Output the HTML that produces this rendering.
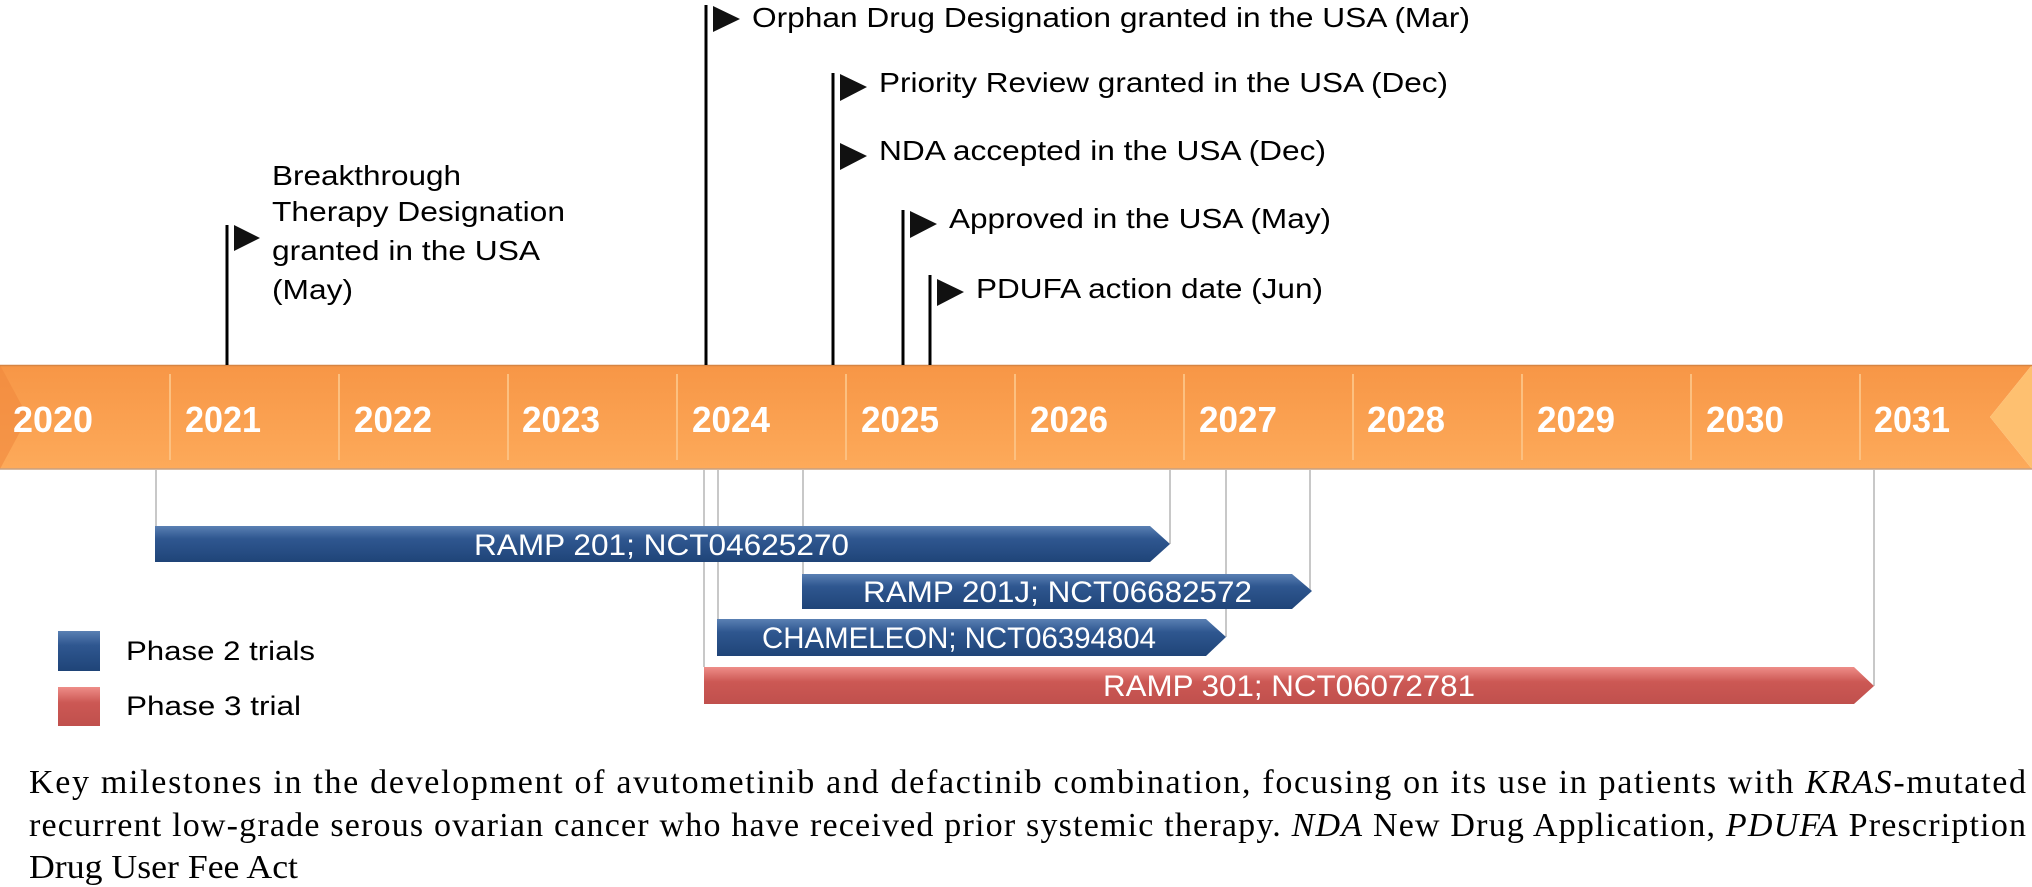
<!DOCTYPE html>
<html><head><meta charset="utf-8"><style>
html,body{margin:0;padding:0;background:#fff;}
svg{display:block;}
</style></head><body>
<svg width="2032" height="887" viewBox="0 0 2032 887" xmlns="http://www.w3.org/2000/svg">
<defs>
<linearGradient id="og" x1="0" y1="0" x2="0" y2="1">
<stop offset="0" stop-color="#f79646"/><stop offset="1" stop-color="#fdaa5a"/></linearGradient>
<linearGradient id="bg" x1="0" y1="0" x2="0" y2="1">
<stop offset="0" stop-color="#5a80b3"/><stop offset="0.35" stop-color="#2f5790"/><stop offset="1" stop-color="#1f4478"/></linearGradient>
<linearGradient id="rg" x1="0" y1="0" x2="0" y2="1">
<stop offset="0" stop-color="#ee8d88"/><stop offset="0.4" stop-color="#cc5854"/><stop offset="1" stop-color="#c0504d"/></linearGradient>
</defs>
<polygon points="0,365 2032,365 1990,417 2032,469 0,469" fill="url(#og)"/>
<polygon points="1990,417 2032,365 2032,469" fill="#fec070"/>
<polygon points="0,365 28,417 0,469" fill="#f0893e" opacity="0.6"/>
<line x1="0" y1="365.5" x2="2032" y2="365.5" stroke="#d68442" stroke-width="1.5"/>
<line x1="0" y1="469" x2="2032" y2="469" stroke="#c8a080" stroke-width="1.5"/>
<g stroke="#fcc080" stroke-width="2">
<line x1="170" y1="374" x2="170" y2="460"/><line x1="339" y1="374" x2="339" y2="460"/>
<line x1="508" y1="374" x2="508" y2="460"/><line x1="677" y1="374" x2="677" y2="460"/>
<line x1="846" y1="374" x2="846" y2="460"/><line x1="1015" y1="374" x2="1015" y2="460"/>
<line x1="1184" y1="374" x2="1184" y2="460"/><line x1="1353" y1="374" x2="1353" y2="460"/>
<line x1="1522" y1="374" x2="1522" y2="460"/><line x1="1691" y1="374" x2="1691" y2="460"/>
<line x1="1860" y1="374" x2="1860" y2="460"/>
</g>
<g font-family="Liberation Sans, sans-serif" font-weight="bold" font-size="36" fill="#fff">
<text x="13" y="432" textLength="80" lengthAdjust="spacingAndGlyphs">2020</text>
<text x="185" y="432" textLength="76" lengthAdjust="spacingAndGlyphs">2021</text>
<text x="354" y="432" textLength="78" lengthAdjust="spacingAndGlyphs">2022</text>
<text x="522" y="432" textLength="78" lengthAdjust="spacingAndGlyphs">2023</text>
<text x="692" y="432" textLength="78" lengthAdjust="spacingAndGlyphs">2024</text>
<text x="861" y="432" textLength="78" lengthAdjust="spacingAndGlyphs">2025</text>
<text x="1030" y="432" textLength="78" lengthAdjust="spacingAndGlyphs">2026</text>
<text x="1199" y="432" textLength="78" lengthAdjust="spacingAndGlyphs">2027</text>
<text x="1367" y="432" textLength="78" lengthAdjust="spacingAndGlyphs">2028</text>
<text x="1537" y="432" textLength="78" lengthAdjust="spacingAndGlyphs">2029</text>
<text x="1706" y="432" textLength="78" lengthAdjust="spacingAndGlyphs">2030</text>
<text x="1874" y="432" textLength="76" lengthAdjust="spacingAndGlyphs">2031</text>
</g>
<g stroke="#000" stroke-width="3">
<line x1="227" y1="225" x2="227" y2="365"/>
<line x1="706" y1="5" x2="706" y2="365"/>
<line x1="833" y1="73" x2="833" y2="365"/>
<line x1="903" y1="210" x2="903" y2="365"/>
<line x1="930" y1="275" x2="930" y2="365"/>
</g>
<g fill="#111">
<polygon points="234,225 260,238 234,251"/>
<polygon points="713,6 740,19 713,32"/>
<polygon points="840,74 867,87 840,101"/>
<polygon points="840,143 867,156 840,170"/>
<polygon points="910,211 937,224 910,238"/>
<polygon points="937,279 964,292 937,306"/>
</g>
<g font-family="Liberation Sans, sans-serif" font-size="28" fill="#000">
<text x="272" y="185" textLength="189" lengthAdjust="spacingAndGlyphs">Breakthrough</text>
<text x="272" y="221" textLength="293" lengthAdjust="spacingAndGlyphs">Therapy Designation</text>
<text x="272" y="260" textLength="268" lengthAdjust="spacingAndGlyphs">granted in the USA</text>
<text x="272" y="299" textLength="81" lengthAdjust="spacingAndGlyphs">(May)</text>
<text x="752" y="27" textLength="718" lengthAdjust="spacingAndGlyphs">Orphan Drug Designation granted in the USA (Mar)</text>
<text x="879" y="92" textLength="569" lengthAdjust="spacingAndGlyphs">Priority Review granted in the USA (Dec)</text>
<text x="879" y="160" textLength="447" lengthAdjust="spacingAndGlyphs">NDA accepted in the USA (Dec)</text>
<text x="949" y="228" textLength="382" lengthAdjust="spacingAndGlyphs">Approved in the USA (May)</text>
<text x="976" y="298" textLength="347" lengthAdjust="spacingAndGlyphs">PDUFA action date (Jun)</text>
</g>
<g stroke="#c8c8c8" stroke-width="2">
<line x1="156" y1="470" x2="156" y2="526"/><line x1="1170" y1="470" x2="1170" y2="544"/>
<line x1="803" y1="470" x2="803" y2="574"/><line x1="1310" y1="470" x2="1310" y2="592"/>
<line x1="718" y1="470" x2="718" y2="619"/><line x1="1226" y1="470" x2="1226" y2="637"/>
<line x1="704" y1="470" x2="704" y2="667"/><line x1="1874" y1="470" x2="1874" y2="686"/>
</g>
<polygon points="155,526 1150,526 1170,544 1150,562 155,562" fill="url(#bg)"/>
<polygon points="802,574 1292,574 1312,591 1292,609 802,609" fill="url(#bg)"/>
<polygon points="717,619 1206,619 1226,637 1206,656 717,656" fill="url(#bg)"/>
<polygon points="704,667 1854,667 1874,686 1854,704 704,704" fill="url(#rg)"/>
<g font-family="Liberation Sans, sans-serif" font-size="30" fill="#fff">
<text x="474" y="555" textLength="375" lengthAdjust="spacingAndGlyphs">RAMP 201; NCT04625270</text>
<text x="863" y="602" textLength="389" lengthAdjust="spacingAndGlyphs">RAMP 201J; NCT06682572</text>
<text x="762" y="648" textLength="394" lengthAdjust="spacingAndGlyphs">CHAMELEON; NCT06394804</text>
<text x="1103" y="696" textLength="372" lengthAdjust="spacingAndGlyphs">RAMP 301; NCT06072781</text>
</g>
<rect x="58" y="631" width="42" height="40" fill="url(#bg)"/>
<rect x="58" y="687" width="42" height="39" fill="url(#rg)"/>
<g font-family="Liberation Sans, sans-serif" font-size="27" fill="#000">
<text x="126" y="660" textLength="189" lengthAdjust="spacingAndGlyphs">Phase 2 trials</text>
<text x="126" y="715" textLength="175" lengthAdjust="spacingAndGlyphs">Phase 3 trial</text>
</g>
<g font-family="Liberation Serif, serif" font-size="34" fill="#000">
<text x="29" y="793" textLength="1997" lengthAdjust="spacing">Key milestones in the development of avutometinib and defactinib combination, focusing on its use in patients with <tspan font-style="italic">KRAS</tspan>-mutated</text>
<text x="29" y="836" textLength="1997" lengthAdjust="spacing">recurrent low-grade serous ovarian cancer who have received prior systemic therapy. <tspan font-style="italic">NDA</tspan> New Drug Application, <tspan font-style="italic">PDUFA</tspan> Prescription</text>
<text x="29" y="878" textLength="269" lengthAdjust="spacingAndGlyphs">Drug User Fee Act</text>
</g>
</svg>
</body></html>
